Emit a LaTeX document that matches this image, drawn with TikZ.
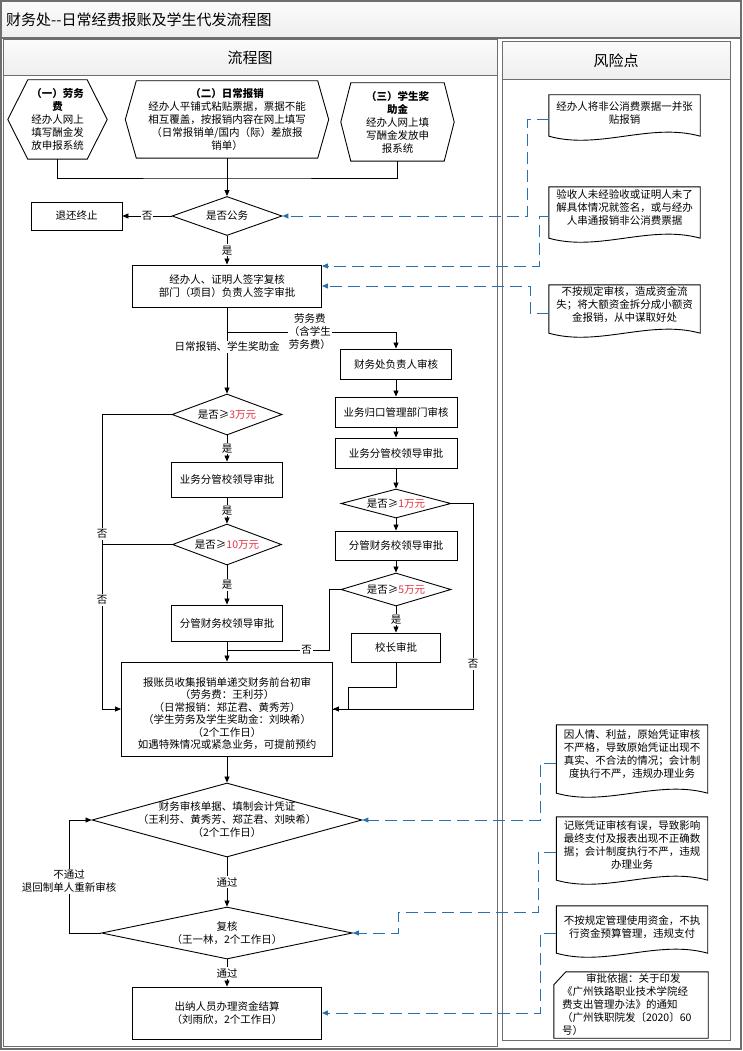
\documentclass[tikz,border=0pt]{standalone}
\usepackage{fontspec}
\setmainfont{Noto Sans CJK SC}
\usetikzlibrary{arrows.meta,shapes.geometric,calc}
\definecolor{rk}{RGB}{40,112,175}
\definecolor{redt}{RGB}{225,50,65}
\definecolor{framec}{RGB}{110,110,110}
\newcommand\rd[1]{\textcolor{redt}{#1}}
\newcommand\hexshape[2]{\draw[line width=0.9pt] (#1.west) -- ([xshift=#2]#1.north west) -- ([xshift=-#2]#1.north east) -- (#1.east) -- ([xshift=-#2]#1.south east) -- ([xshift=#2]#1.south west) -- cycle;}
\newcommand\riskshape[1]{\draw[line width=0.9pt] (#1.north west) -- (#1.north east) -- (#1.south east) .. controls ([xshift=-50pt,yshift=14pt]#1.south east) and ([xshift=50pt,yshift=-14pt]#1.south west) .. (#1.south west) -- cycle;}
\begin{document}
\begin{tikzpicture}[x=1pt,y=-1pt,
  fnt/.style={font=\fontsize{10.5}{12.5}\selectfont},
  box/.style={draw, line width=0.9pt, rectangle, inner sep=0pt, align=center, fnt},
  dia/.style={draw, line width=0.9pt, diamond, inner sep=0pt},
  dtext/.style={align=center, fnt, inner sep=0pt},
  hex/.style={inner sep=0pt, align=center, font=\fontsize{10.5}{13}\selectfont},
  lbl/.style={fill=white, inner sep=1.2pt, align=center, font=\fontsize{10.5}{13}\selectfont},
  con/.style={line width=0.8pt},
  arr/.style={con, -{Triangle[length=6pt,width=5pt]}},
  darr/.style={draw=rk, line width=1pt, dash pattern=on 12pt off 6pt, -{Triangle[length=6pt,width=5pt,fill=rk]}},
  rnode/.style={inner sep=0pt, minimum width=151pt},
  rtext/.style={anchor=north, align=center, font=\fontsize{10.5}{13}\selectfont, inner sep=0pt},
  frame/.style={draw=framec, line width=1.6pt},
  pane/.style={draw=framec, line width=1pt},
  band/.style={top color=gray!3, bottom color=gray!13},
  head/.style={font=\fontsize{15}{18}\selectfont, inner sep=0pt}
]
\useasboundingbox (0,0) rectangle (743,1051);
% frame
\shade[band] (1,1) rectangle (741,38);
\shade[band] (3,40) rectangle (497,76);
\shade[band] (502,42) rectangle (730,80);
\draw[frame] (1,1) rectangle (741,1049);
\draw[frame] (1,38) -- (741,38);
\draw[pane] (3,40) rectangle (497,1046);
\draw[pane] (3,76) -- (497,76);
\draw[pane] (502,42) rectangle (730,1040);
\draw[pane] (502,80) -- (730,80);
\node[head, anchor=west] (title) at (6,20) {财务处-\kern0pt-日常经费报账及学生代发流程图};
\node[head] (hl) at (250,58) {流程图};
\node[head] (hr) at (616,61) {风险点};

% hexagons
\node[hex, minimum width=99pt, minimum height=79pt] (h1) at (57.5,119.5) {\textbf{（一）劳务}\\\textbf{费}\\经办人网上\\填写酬金发\\放申报系统};
\hexshape{h1}{20pt}
\node[hex, minimum width=203pt, minimum height=77pt] (h2) at (227,119.5) {\textbf{（二）日常报销}\\经办人平铺式粘贴票据，票据不能\\相互覆盖，按报销内容在网上填写\\（日常报销单/国内（际）差旅报\\销单）};
\hexshape{h2}{11pt}
\node[hex, minimum width=113pt, minimum height=78pt] (h3) at (397.5,122) {\textbf{（三）学生奖}\\\textbf{助金}\\经办人网上填\\写酬金发放申\\报系统};
\hexshape{h3}{10pt}

% flow nodes
\node[dia, minimum width=110pt, minimum height=39pt] (d1) at (227,216) {};
\node[dtext] (d1t) at (d1.center) {是否公务};
\node[box, minimum width=91pt, minimum height=28pt] (t0) at (76.5,216) {退还终止};
\node[box, minimum width=189pt, minimum height=42pt] (b2) at (227,286) {经办人、证明人签字复核\\部门（项目）负责人签字审批};
\coordinate (j1) at (227,178);
\coordinate (j2) at (227,332);
\coordinate (j3) at (396,332);
\node[box, minimum width=111pt, minimum height=30pt] (b3) at (396,364) {财务处负责人审核};
\node[dia, minimum width=110pt, minimum height=41pt] (d2) at (227,414.5) {};
\node[dtext] (d2t) at (d2.center) {是否≥\rd{3万元}};
\node[box, minimum width=122pt, minimum height=30pt] (b4) at (396,412) {业务归口管理部门审核};
\node[box, minimum width=122pt, minimum height=30pt] (b5) at (396,453) {业务分管校领导审批};
\node[dia, minimum width=110pt, minimum height=29pt] (d3) at (396,503.5) {};
\node[dtext] (d3t) at (d3.center) {是否≥\rd{1万元}};
\node[box, minimum width=122pt, minimum height=29pt] (b6) at (396,545.5) {分管财务校领导审批};
\node[dia, minimum width=110pt, minimum height=33pt] (d4) at (396,589.5) {};
\node[dtext] (d4t) at (d4.center) {是否≥\rd{5万元}};
\node[box, minimum width=89pt, minimum height=29pt] (b7) at (396,647.5) {校长审批};
\node[box, minimum width=111pt, minimum height=35pt] (b8) at (227,479.5) {业务分管校领导审批};
\node[dia, minimum width=109pt, minimum height=41pt] (d5) at (227,544.5) {};
\node[dtext] (d5t) at (d5.center) {是否≥\rd{10万元}};
\node[box, minimum width=111pt, minimum height=36pt] (b9) at (227,623) {分管财务校领导审批};
\node[box, minimum width=211pt, minimum height=94pt] (bm) at (227,709) {\rule{0pt}{18pt}报账员收集报销单递交财务前台初审\\（劳务费：王利芬）\\（日常报销：郑芷君、黄秀芳）\\（学生劳务及学生奖助金：刘映希）\\（2个工作日）\\如遇特殊情况或紧急业务，可提前预约};
\node[dia, minimum width=270pt, minimum height=74pt] (d6) at (227,820) {};
\node[dtext, font=\fontsize{10.5}{13}\selectfont] (d6t) at (d6.center) {财务审核单据、填制会计凭证\\（王利芬、黄秀芳、郑芷君、刘映希）\\（2个工作日）};
\node[dia, minimum width=251pt, minimum height=52pt] (d7) at (227,933) {};
\node[dtext, font=\fontsize{10.5}{13}\selectfont] (d7t) at (d7.center) {复核\\（王一林，2个工作日）};
\node[box, minimum width=189pt, minimum height=52pt] (bc) at (227,1013) {出纳人员办理资金结算\\（刘雨欣，2个工作日）};

\coordinate (k1) at (473,709);
\coordinate (k2) at (348,687);
\coordinate (k3) at (329,650);
\coordinate (k4) at (227,650);
\coordinate (k5) at (102,709);
\coordinate (k6) at (69,820);

% flow connectors
\draw[con] (h1.south) |- (j1) -| (h3.south);
\draw[arr] (h2.south) -- (d1.north);
\draw[arr] (d1.west) -- node[lbl]{否} (t0.east);
\draw[arr] (d1.south) -- node[lbl]{是} (b2.north);
\draw[con] (b2.south) -- (j2);
\draw[arr] (j2) -- node[lbl,pos=0.24]{日常报销、学生奖助金} (d2.north);
\draw[arr] (j2) -- node[lbl,pos=0.49]{劳务费\\（含学生\\劳务费）} (j3) -- (b3.north);
\draw[arr] (b3) -- (b4);
\draw[arr] (b4) -- (b5);
\draw[arr] (b5) -- (d3);
\draw[arr] (d3) -- (b6);
\draw[arr] (b6) -- (d4);
\draw[arr] (d4.south) -- node[lbl]{是} (b7.north);
\draw[arr] (d3.east) -| node[lbl,pos=0.89]{否} (k1) -- (bm.east);
\draw[con] (b7.south) |- (k2) |- (bm.east);
\draw[con] (d4.west) -| (k3) -- node[lbl,pos=0.22]{否} (k4);
\draw[arr] (d2.south) -- node[lbl]{是} (b8.north);
\draw[arr] (b8.south) -- node[lbl]{是} (d5.north);
\draw[arr] (d5.south) -- node[lbl]{是} (b9.north);
\draw[arr] (b9.south) -- (bm.north);
\draw[arr] (d2.west) -| node[lbl,pos=0.703]{否} node[lbl,pos=0.815]{否} (k5) -- (bm.west);
\draw[con] (d5.west) -- (d5.west -| k5);
\draw[arr] (bm.south) -- (d6.north);
\draw[arr] (d6.south) -- node[lbl]{通过} (d7.north);
\draw[arr] (d7.south) -- node[lbl]{通过} (bc.north);
\draw[arr] (d7.west) -| node[lbl,pos=0.73]{不通过\\退回制单人重新审核} (k6) -- (d6.west);

% risk nodes
\node[rnode, minimum height=41pt] (r1) at (624.5,115.5) {};
\riskshape{r1}
\node[rtext] (r1t) at ([yshift=-7pt]r1.north) {经办人将非公消费票据一并张\\贴报销};
\node[rnode, minimum height=51pt] (r2) at (624.5,212.5) {};
\riskshape{r2}
\node[rtext] (r2t) at ([yshift=-3pt]r2.north) {验收人未经验收或证明人未了\\解具体情况就签名，或与经办\\人串通报销非公消费票据};
\node[rnode, minimum height=48pt] (r3) at (624.5,309) {};
\riskshape{r3}
\node[rtext] (r3t) at ([yshift=-2pt]r3.north) {不按规定审核，造成资金流\\失；将大额资金拆分成小额资\\金报销，从中谋取好处};
\node[rnode, minimum height=68pt] (r4) at (632,759) {};
\riskshape{r4}
\node[rtext] (r4t) at ([yshift=-5pt]r4.north) {因人情、利益，原始凭证审核\\不严格，导致原始凭证出现不\\真实、不合法的情况；会计制\\度执行不严，违规办理业务};
\node[rnode, minimum height=63pt] (r5) at (632,848.5) {};
\riskshape{r5}
\node[rtext] (r5t) at ([yshift=-4pt]r5.north) {记账凭证审核有误，导致影响\\最终支付及报表出现不正确数\\据；会计制度执行不严，违规\\办理业务};
\node[rnode, minimum height=47pt] (r6) at (632,929.5) {};
\riskshape{r6}
\node[rtext] (r6t) at ([yshift=-10pt]r6.north) {不按规定管理使用资金，不执\\行资金预算管理，违规支付};
\node[inner sep=0pt, minimum width=154pt, minimum height=66pt] (r7) at (631,1005) {};
\draw[line width=0.9pt] ([yshift=-13pt]r7.north west) -- ([xshift=12pt]r7.north west) -- (r7.north east) -- (r7.south east) -- (r7.south west) -- cycle;
\node[rtext, anchor=north west, align=left] (r7t) at ([xshift=8pt,yshift=-2pt]r7.north west) {\hspace*{24pt}审批依据：关于印发\\《广州铁路职业技术学院经\\费支出管理办法》的通知\\（广州铁职院发〔2020〕60\\号）};

% risk connectors
\coordinate (m1) at (527,216);
\coordinate (m2) at (539,266);
\coordinate (m3) at (530,286);
\coordinate (m4) at (540,820);
\coordinate (m5) at (538,912);
\coordinate (m6) at (398,933);
\coordinate (m7) at (540,1013);
\draw[darr] ([yshift=-4pt]r1.west) -| (m1) -- (d1.east);
\draw[darr] ([yshift=-4pt]r2.west) -| (m2) -- (m2 -| b2.east);
\draw[darr] ([yshift=-4pt]r3.west) -| (m3) -- (m3 -| b2.east);
\draw[darr] ([yshift=-4pt]r4.west) -| (m4) -- (d6.east);
\draw[darr] ([yshift=-4pt]r5.west) -| (m5) -| (m6) -- (d7.east);
\draw[darr] ([yshift=-4pt]r6.west) -| (m7) -- (bc.east);
\end{tikzpicture}
\end{document}
